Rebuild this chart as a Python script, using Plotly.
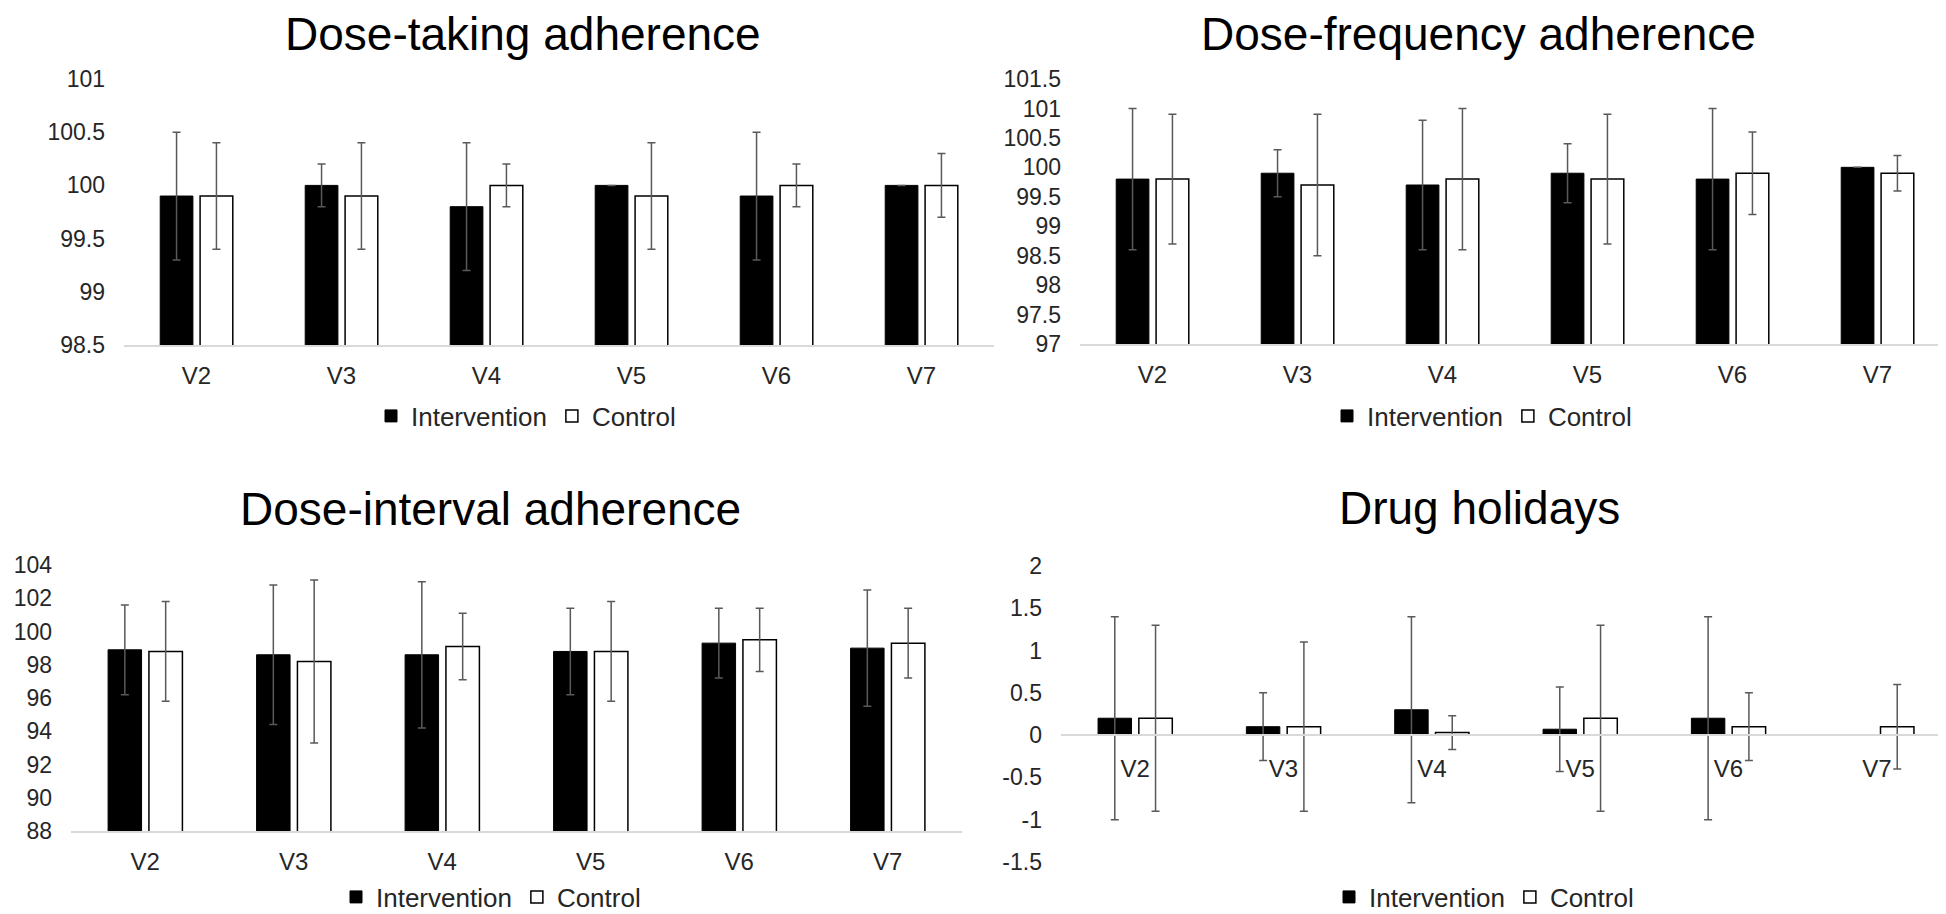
import plotly.graph_objects as go

# ---------------- data ----------------
categories = ["V2", "V3", "V4", "V5", "V6", "V7"]
series_names = ["Intervention", "Control"]

taking_int = [99.9, 100.0, 99.8, 100.0, 99.9, 100.0]
taking_int_sd = [0.6, 0.2, 0.6, 0.0, 0.6, 0.0]
taking_ctl = [99.9, 99.9, 100.0, 99.9, 100.0, 100.0]
taking_ctl_sd = [0.5, 0.5, 0.2, 0.5, 0.2, 0.3]

freq_int = [99.8, 99.9, 99.7, 99.9, 99.8, 100.0]
freq_int_sd = [1.2, 0.4, 1.1, 0.5, 1.2, 0.0]
freq_ctl = [99.8, 99.7, 99.8, 99.8, 99.9, 99.9]
freq_ctl_sd = [1.1, 1.2, 1.2, 1.1, 0.7, 0.3]

interval_int = [98.9, 98.6, 98.6, 98.8, 99.3, 99.0]
interval_int_sd = [2.7, 4.2, 4.4, 2.6, 2.1, 3.5]
interval_ctl = [98.8, 98.2, 99.1, 98.8, 99.5, 99.3]
interval_ctl_sd = [3.0, 4.9, 2.0, 3.0, 1.9, 2.1]

holiday_int = [0.2, 0.1, 0.3, 0.07, 0.2, 0.0]
holiday_int_sd = [1.2, 0.4, 1.1, 0.5, 1.2, 0.0]
holiday_ctl = [0.2, 0.1, 0.03, 0.2, 0.1, 0.1]
holiday_ctl_sd = [1.1, 1.0, 0.2, 1.1, 0.4, 0.5]

titles = ["Dose-taking adherence", "Dose-frequency adherence",
          "Dose-interval adherence", "Drug holidays"]
y_ranges = [[98.5, 101], [97, 101.5], [88, 104], [-1.5, 2]]
y_dticks = [0.5, 0.5, 2, 0.5]
holiday_tickvals = [-1.5, -1, -0.5, 0, 0.5, 1, 1.5, 2]
holiday_ticktext = ["-1.5", "-1", "-0.5", "0", "0.5", "1", "1.5", "2"]

# ---------------- layout geometry (pixels) ----------------
W, H = 1946, 914
FONT = "Liberation Sans, Arial, sans-serif"
# (x0, x1, ytop, ybottom)
panels = [
    (116, 986, 71, 337),
    (1072, 1942, 71, 336),
    (63, 954, 557, 823),
    (1053, 1943, 558, 854),
]
title_pos = [(515, 26), (1470, 26), (482, 501), (1471, 500)]
legend_pos = [(518, 408), (1474, 408), (483, 889), (1476, 889)]


def fx(p):
    return p / W


def fy(p):
    return 1 - p / H


data_sets = [
    (taking_int, taking_int_sd, taking_ctl, taking_ctl_sd),
    (freq_int, freq_int_sd, freq_ctl, freq_ctl_sd),
    (interval_int, interval_int_sd, interval_ctl, interval_ctl_sd),
    (holiday_int, holiday_int_sd, holiday_ctl, holiday_ctl_sd),
]

fig = go.Figure()
err_color = "#595959"
for i, (vi, si, vc, sc) in enumerate(data_sets):
    n = "" if i == 0 else str(i + 1)
    leg = "legend" + n
    fig.add_trace(go.Bar(
        x=categories, y=vi, name=series_names[0],
        xaxis="x" + n, yaxis="y" + n, legend=leg,
        marker=dict(color="black", line=dict(color="black", width=1)),
        error_y=dict(type="data", array=si, color=err_color, thickness=1.5, width=4),
    ))
    fig.add_trace(go.Bar(
        x=categories, y=vc, name=series_names[1],
        xaxis="x" + n, yaxis="y" + n, legend=leg,
        marker=dict(color="white", line=dict(color="black", width=1.5)),
        error_y=dict(type="data", array=sc, color=err_color, thickness=1.5, width=4),
    ))

layout = dict(
    width=W, height=H,
    margin=dict(l=0, r=0, t=0, b=0, autoexpand=False),
    paper_bgcolor="white", plot_bgcolor="white",
    bargap=0.45, bargroupgap=0.18,
    font=dict(family=FONT, color="#262626"),
    annotations=[],
)

for i, (x0, x1, yt, yb) in enumerate(panels):
    n = "" if i == 0 else str(i + 1)
    xa = dict(
        domain=[fx(x0), fx(x1)], anchor="y" + n,
        showgrid=False, zeroline=False, showline=True,
        linecolor="#d9d9d9", linewidth=2, ticks="",
        tickfont=dict(size=24, color="#262626", family=FONT),
        ticklabelstandoff=8,
    )
    ya = dict(
        domain=[fy(yb), fy(yt)], anchor="x" + n,
        range=y_ranges[i], dtick=y_dticks[i], tick0=0,
        showgrid=False, zeroline=False, showline=False, ticks="",
        tickfont=dict(size=23, color="#262626", family=FONT),
        ticklabelstandoff=18,
    )
    if i == 3:
        ymin, ymax = y_ranges[i]
        d0, d1 = ya["domain"]
        xa["anchor"] = "free"
        xa["position"] = d0 + (0 - ymin) / (ymax - ymin) * (d1 - d0)
        xa["ticklabelstandoff"] = 12
        ya["tickmode"] = "array"
        ya["tickvals"] = holiday_tickvals
        ya["ticktext"] = holiday_ticktext
    layout["xaxis" + n] = xa
    layout["yaxis" + n] = ya

    tx, ty = title_pos[i]
    layout["annotations"].append(dict(
        text=titles[i], x=fx(tx), y=fy(ty), xref="paper", yref="paper",
        xanchor="center", yanchor="middle", showarrow=False,
        font=dict(size=46, color="black", family=FONT),
    ))
    lx, ly = legend_pos[i]
    layout["legend" + n] = dict(
        orientation="h", x=fx(lx), y=fy(ly), xanchor="center", yanchor="middle",
        xref="paper", yref="paper", bgcolor="rgba(0,0,0,0)",
        font=dict(size=26, color="#262626", family=FONT),
        itemwidth=30, traceorder="normal",
    )

fig.update_layout(**layout)
fig.write_html("out.html")
